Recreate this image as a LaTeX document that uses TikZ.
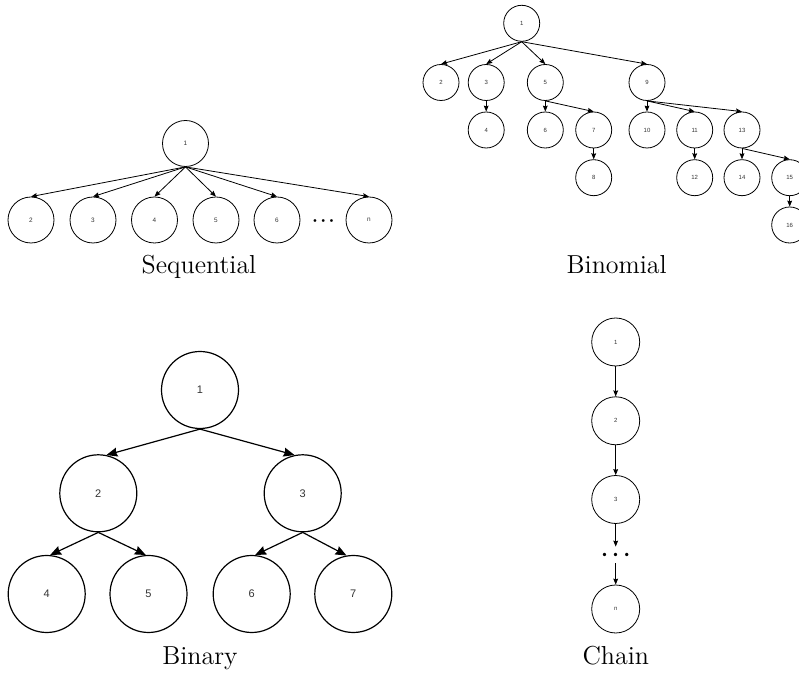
\documentclass[tikz,border=0pt]{standalone}
\usepackage{fontspec}
\usetikzlibrary{arrows.meta}
\newfontfamily\nfont{Liberation Sans}
\tikzset{%
    sv/.style={circle, draw, line width=0.4pt, inner sep=0pt, minimum size=23pt, text=black!80, font=\nfont\fontsize{3.2}{4}\selectfont},
    bv/.style={circle, draw, line width=0.4pt, inner sep=0pt, minimum size=18pt, text=black!80, font=\nfont\fontsize{3}{4}\selectfont},
    tv/.style={circle, draw, line width=0.6pt, inner sep=0pt, minimum size=38.5pt, text=black!80, font=\nfont\fontsize{5.5}{6}\selectfont},
    cv/.style={circle, draw, line width=0.4pt, inner sep=0pt, minimum size=24pt, text=black!80, font=\nfont\fontsize{3}{4}\selectfont},
    arr/.style={line width=0.4pt, -{Stealth[length=3pt, width=2.4pt, inset=0.4pt]}},
    arrb/.style={line width=0.6pt, -{Stealth[length=5.5pt, width=4.5pt, inset=0.6pt]}},
    dts/.style={inner sep=0pt, minimum height=8pt},
    lab/.style={anchor=base, inner sep=0pt, font=\fontsize{13}{15}\selectfont},
}
\begin{document}
\begin{tikzpicture}[x=0.5pt, y=-0.5pt]
    \clip (0,0) rectangle (799,673);
    % sequential
    \node [sv] (s1) at (185.5,143.5) {1};
    \node [sv] (s2) at (31,220) {2};
    \node [sv] (s3) at (93,220) {3};
    \node [sv] (s4) at (154.5,220) {4};
    \node [sv] (s5) at (216,220) {5};
    \node [sv] (s6) at (277,220) {6};
    \node [dts, font=\boldmath\fontsize{9}{9}\selectfont] (sd) at (323.3,221) {${\cdotp}\mkern2mu{\cdotp}\mkern2mu{\cdotp}$};
    \node [sv] (sn) at (369,220) {n};
    \draw [arr](s1.south)--(s2.north);
    \draw [arr](s1.south)--(s3.north);
    \draw [arr](s1.south)--(s4.north);
    \draw [arr](s1.south)--(s5.north);
    \draw [arr](s1.south)--(s6.north);
    \draw [arr](s1.south)--(sn.north);
    \node [lab] (sl) at (199,274) {Sequential};
    % binomial
    \node [bv] (b1) at (521.7,23.3) {1};
    \node [bv] (b2) at (441,82.5) {2};
    \node [bv] (b3) at (486.2,82.5) {3};
    \node [bv] (b5) at (545.3,82.5) {5};
    \node [bv] (b9) at (647,82.5) {9};
    \node [bv] (b4) at (486.2,130) {4};
    \node [bv] (b6) at (545.3,130) {6};
    \node [bv] (b7) at (593.7,130) {7};
    \node [bv] (b10) at (647,130) {10};
    \node [bv] (b11) at (694.7,130) {11};
    \node [bv] (b13) at (742,130) {13};
    \node [bv] (b8) at (593.7,177.7) {8};
    \node [bv] (b12) at (694.7,177.7) {12};
    \node [bv] (b14) at (742,177.7) {14};
    \node [bv] (b15) at (789.7,177.7) {15};
    \node [bv] (b16) at (789.7,225) {16};
    \draw [arr](b1.south)--(b2.north);
    \draw [arr](b1.south)--(b3.north);
    \draw [arr](b1.south)--(b5.north);
    \draw [arr](b1.south)--(b9.north);
    \draw [arr](b3.south)--(b4.north);
    \draw [arr](b5.south)--(b6.north);
    \draw [arr](b5.south)--(b7.north);
    \draw [arr](b7.south)--(b8.north);
    \draw [arr](b9.south)--(b10.north);
    \draw [arr](b9.south)--(b11.north);
    \draw [arr](b9.south)--(b13.north);
    \draw [arr](b11.south)--(b12.north);
    \draw [arr](b13.south)--(b14.north);
    \draw [arr](b13.south)--(b15.north);
    \draw [arr](b15.south)--(b16.north);
    \node [lab] (bl) at (616.7,274) {Binomial};
    % binary
    \node [tv] (t1) at (200,390) {1};
    \node [tv] (t2) at (98.3,493.3) {2};
    \node [tv] (t3) at (302.7,493.3) {3};
    \node [tv] (t4) at (46.7,594) {4};
    \node [tv] (t5) at (148.5,594) {5};
    \node [tv] (t6) at (251.7,594) {6};
    \node [tv] (t7) at (353.3,594) {7};
    \draw [arrb](t1.south)--(t2.78);
    \draw [arrb](t1.south)--(t3.102);
    \draw [arrb](t2.south)--(t4.85);
    \draw [arrb](t2.south)--(t5.94);
    \draw [arrb](t3.south)--(t6.85);
    \draw [arrb](t3.south)--(t7.100);
    \node [lab] (tl) at (200,665) {Binary};
    % chain
    \node [cv] (c1) at (615.7,342) {1};
    \node [cv] (c2) at (615.7,420.8) {2};
    \node [cv] (c3) at (615.7,499.5) {3};
    \node [dts, font=\boldmath\fontsize{11}{11}\selectfont] (cd) at (615.7,555) {${\cdotp}\mkern3mu{\cdotp}\mkern3mu{\cdotp}$};
    \node [cv] (cn) at (615.7,609) {n};
    \draw [arr](c1.south)--(c2.north);
    \draw [arr](c2.south)--(c3.north);
    \draw [arr](c3.south)--(cd.north);
    \draw [arr](cd.south)--(cn.north);
    \node [lab] (cl) at (615.8,665) {Chain};
\end{tikzpicture}
\end{document}
